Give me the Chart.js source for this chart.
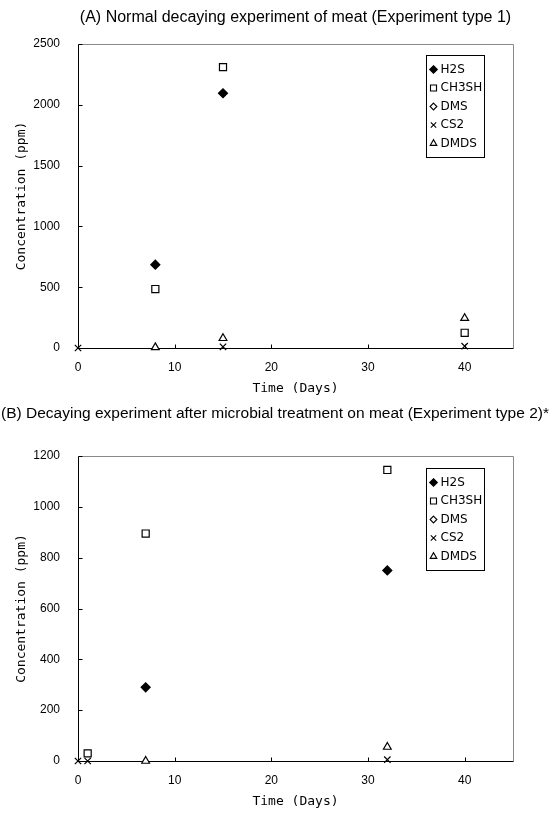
<!DOCTYPE html>
<html><head><meta charset="utf-8">
<script src="https://cdn.jsdelivr.net/npm/chart.js@4.4.1/dist/chart.umd.min.js"></script>
<style>html,body{margin:0;padding:0;background:#fff;} canvas{display:block;}</style>
</head><body>
<canvas id="a" width="550" height="400"></canvas>
<canvas id="b" width="550" height="413"></canvas>
<script>
// ---- data ----
const seriesNames = ['H2S', 'CH3SH', 'DMS', 'CS2', 'DMDS'];
const xTicks = [0, 10, 20, 30, 40];
const yTicksA = [0, 500, 1000, 1500, 2000, 2500];
const yTicksB = [0, 200, 400, 600, 800, 1000, 1200];

const daysA = [0, 8, 15, 40];
const h2sA = [null, 685, 2095, null];
const ch3shA = [null, 485, 2310, 125];
const dmsA = [null, null, null, null];
const cs2A = [0, null, 10, 15];
const dmdsA = [null, 5, 80, 245];

const daysB = [0, 1, 7, 32];
const h2sB = [null, null, 290, 750];
const ch3shB = [null, 30, 895, 1145];
const dmsB = [null, null, null, null];
const cs2B = [0, 0, null, 5];
const dmdsB = [null, null, 0, 55];

// ---- styles ----
const markerStyles = [
  {pointStyle: 'rectRot', bg: '#000', r: 4.5},
  {pointStyle: 'rect', bg: '#fff', r: 5},
  {pointStyle: 'rectRot', bg: '#fff', r: 4},
  {pointStyle: 'crossRot', bg: '#fff', r: 4.5},
  {pointStyle: 'triangle', bg: '#fff', r: 4.5}
];

function makeDatasets(days, series) {
  return series.map((vals, i) => ({
    label: seriesNames[i],
    data: days.map((d, j) => ({x: d, y: vals[j]})).filter(p => p.y !== null),
    showLine: false,
    pointStyle: markerStyles[i].pointStyle,
    pointRadius: markerStyles[i].r,
    pointHoverRadius: markerStyles[i].r,
    pointBackgroundColor: markerStyles[i].bg,
    pointBorderColor: '#000',
    pointBorderWidth: 1.2,
    clip: false
  }));
}

const framePlugin = {
  id: 'frame',
  beforeDatasetsDraw(chart) {
    const {ctx, chartArea: {left, right, top, bottom}} = chart;
    const L = Math.round(left) + 0.5, R = Math.round(right) + 0.5, T = Math.round(top) + 0.5, B = Math.round(bottom) + 0.5;
    ctx.save();
    ctx.lineWidth = 1;
    ctx.strokeStyle = '#8a8a8a';
    ctx.beginPath(); ctx.moveTo(L, T); ctx.lineTo(R, T); ctx.lineTo(R, B); ctx.stroke();
    ctx.strokeStyle = '#000';
    ctx.beginPath(); ctx.moveTo(L, T); ctx.lineTo(L, B); ctx.lineTo(R, B);
    const xs = chart.scales.x, ys = chart.scales.y;
    ys.ticks.forEach(t => {
      if (t.value === 0) return;
      const py = Math.round(ys.getPixelForValue(t.value)) + 0.5;
      ctx.moveTo(L, py); ctx.lineTo(L + 4, py);
    });
    xs.ticks.forEach(t => {
      if (t.value === 0) return;
      const px = Math.round(xs.getPixelForValue(t.value)) + 0.5;
      ctx.moveTo(px, B); ctx.lineTo(px, B - 4);
    });
    ctx.stroke();
    ctx.restore();
  }
};

function drawMarker(ctx, style, x, y) {
  const r = style.r;
  ctx.beginPath();
  if (style.pointStyle === 'rectRot') {
    ctx.moveTo(x, y - r); ctx.lineTo(x + r, y); ctx.lineTo(x, y + r); ctx.lineTo(x - r, y); ctx.closePath();
  } else if (style.pointStyle === 'rect') {
    const s = r * Math.SQRT1_2;
    ctx.rect(x - s, y - s, 2 * s, 2 * s);
  } else if (style.pointStyle === 'triangle') {
    const w = 1.5 * r / Math.sqrt(3);
    ctx.moveTo(x - w, y + r / 2);
    ctx.lineTo(x, y - r);
    ctx.lineTo(x + w, y + r / 2);
    ctx.closePath();
  } else if (style.pointStyle === 'crossRot') {
    const o = r * Math.SQRT1_2;
    ctx.moveTo(x - o, y - o); ctx.lineTo(x + o, y + o);
    ctx.moveTo(x + o, y - o); ctx.lineTo(x - o, y + o);
    ctx.stroke();
    return;
  }
  ctx.fillStyle = style.bg; ctx.fill(); ctx.stroke();
}

function legendPlugin(topOff, rowGap) {
  return {
    id: 'boxLegend',
    afterDraw(chart) {
      const {ctx, chartArea: {right, top}} = chart;
      const bx = Math.round(right) - 87 + 0.5, by = Math.round(top) + topOff + 0.5, bw = 58, bh = 17 + rowGap * 4 + 11;
      ctx.save();
      ctx.fillStyle = '#fff';
      ctx.fillRect(bx, by, bw, bh);
      ctx.strokeStyle = '#000'; ctx.lineWidth = 1;
      ctx.strokeRect(bx, by, bw, bh);
      ctx.font = '12px "DejaVu Sans"';
      ctx.textBaseline = 'middle';
      seriesNames.forEach((n, i) => {
        const y = by + 14 + i * rowGap;
        ctx.strokeStyle = '#000'; ctx.lineWidth = 1.1;
        const st = Object.assign({}, markerStyles[i], {r: markerStyles[i].r * 0.85});
        drawMarker(ctx, st, bx + 7, y);
        ctx.fillStyle = '#000';
        ctx.fillText(n, bx + 14, y);
      });
      ctx.restore();
    }
  };
}

function makeChart(id, days, series, yTicks, titleText, titleFull, titleSize, titlePad, rowGap, legTop) {
  const yMax = yTicks[yTicks.length - 1];
  return new Chart(document.getElementById(id), {
    type: 'scatter',
    data: {datasets: makeDatasets(days, series)},
    plugins: [framePlugin, legendPlugin(legTop, rowGap)],
    options: {
      responsive: false,
      animation: false,
      events: [],
      layout: {padding: 0},
      plugins: {
        legend: {display: false},
        tooltip: {enabled: false},
        title: {
          display: true, text: titleText, fullSize: titleFull,
          color: '#000', font: {family: '"Liberation Sans", Arial', size: titleSize, weight: 'normal'},
          padding: titlePad
        }
      },
      scales: {
        x: {
          type: 'linear', min: 0, max: 45,
          afterBuildTicks: s => { s.ticks = xTicks.map(v => ({value: v})); },
          grid: {display: false, drawTicks: false},
          border: {display: false},
          ticks: {color: '#000', padding: 12, font: {family: '"Liberation Sans", Arial', size: 12},
                  callback: v => String(v)},
          title: {display: true, text: 'Time (Days)', color: '#000', padding: {top: 0, bottom: 4},
                  font: {family: '"DejaVu Sans Mono", monospace', size: 13}},
          afterFit: s => { s.height = 52; }
        },
        y: {
          type: 'linear', min: 0, max: yMax,
          afterBuildTicks: s => { s.ticks = yTicks.map(v => ({value: v})); },
          grid: {display: false, drawTicks: false},
          border: {display: false},
          ticks: {color: '#000', padding: 18, font: {family: '"Liberation Sans", Arial', size: 12},
                  callback: v => String(v)},
          title: {display: true, text: 'Concentration (ppm)', color: '#000', padding: {top: 14, bottom: 0},
                  font: {family: '"DejaVu Sans Mono", monospace', size: 13}},
          afterFit: s => { s.width = 78; }
        },
        yRight: {
          type: 'linear', position: 'right', min: 0, max: yMax,
          grid: {display: false, drawTicks: false},
          border: {display: false},
          ticks: {display: false},
          afterFit: s => { s.width = 37; }
        }
      }
    }
  });
}

makeChart('a', daysA, [h2sA, ch3shA, dmsA, cs2A, dmdsA], yTicksA,
  '(A) Normal decaying experiment of meat (Experiment type 1)', false, 16, {top: 8, bottom: 16.8}, 18.5, 11);
makeChart('b', daysB, [h2sB, ch3shB, dmsB, cs2B, dmdsB], yTicksB,
  '(B) Decaying experiment after microbial treatment on meat (Experiment type 2)*', true, 15.5, {top: 4, bottom: 33.4}, 18.5, 12);
</script>
</body></html>
